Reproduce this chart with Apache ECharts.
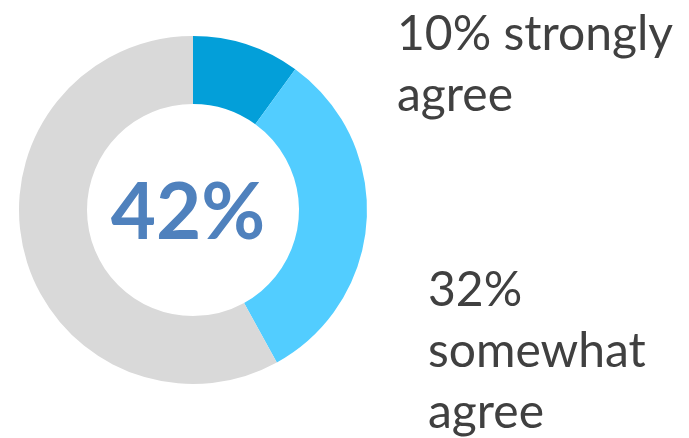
<!DOCTYPE html>
<html>
<head>
<meta charset="utf-8">
<style>
  html, body { margin: 0; padding: 0; background: #ffffff; }
  #chart { width: 689px; height: 438px; }
</style>
<script src="https://cdn.jsdelivr.net/npm/echarts@6/dist/echarts.min.js"></script>
</head>
<body>
<div id="chart"></div>
<script>
// Survey response shares (percent)
const categories = ['strongly agree', 'somewhat agree', 'other'];
const values = [10, 32, 58];
const colors = ['#039FD9', '#52CDFF', '#D9D9D9'];

const agreeTotal = values[0] + values[1];

const chart = echarts.init(document.getElementById('chart'), null, { renderer: 'canvas' });

const labelFont = '48px Lato, "Open Sans", sans-serif';

chart.setOption({
  animation: false,
  series: [{
    type: 'pie',
    center: [193, 210],
    radius: [106, 174],
    startAngle: 90,
    clockwise: true,
    silent: true,
    label: { show: false },
    labelLine: { show: false },
    itemStyle: { borderWidth: 0 },
    data: categories.map((name, i) => ({
      name: name,
      value: values[i],
      itemStyle: { color: colors[i] }
    }))
  }],
  graphic: [
    {
      type: 'text',
      style: {
        text: agreeTotal + '%',
        x: 188,
        y: 214,
        align: 'center',
        verticalAlign: 'middle',
        font: 'bold 78px Lato, "Open Sans", sans-serif',
        fill: '#4F81BD'
      }
    },
    {
      type: 'text',
      style: {
        text: values[0] + '% strongly\nagree',
        x: 397,
        y: 4,
        verticalAlign: 'top',
        font: labelFont,
        lineHeight: 61,
        fill: '#404040'
      }
    },
    {
      type: 'text',
      style: {
        text: values[1] + '%\nsomewhat\nagree',
        x: 428,
        y: 260,
        verticalAlign: 'top',
        font: labelFont,
        lineHeight: 61,
        fill: '#404040'
      }
    }
  ]
});
</script>
</body>
</html>
